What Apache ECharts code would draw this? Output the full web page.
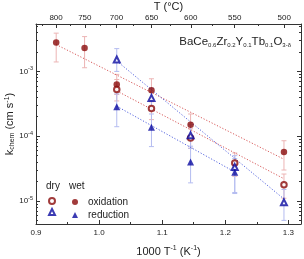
<!DOCTYPE html>
<html><head><meta charset="utf-8">
<script src="https://cdn.jsdelivr.net/npm/echarts@6/dist/echarts.min.js"></script>
<style>html,body{margin:0;padding:0;background:#fff}#c{width:304px;height:259px}</style>
</head><body><div id="c"></div>
<script>
// ---- data ----
const xVals   = [0.932, 0.977, 1.028, 1.083, 1.145, 1.215, 1.293]; // 1000/T (K^-1) for 800..500 °C
const wetOx   = [2.79e-3, 2.30e-3, 6.3e-4, 5.1e-4, 1.5e-4, null, 5.7e-5];
const wetOxLo = [1.4e-3, 1.14e-3, 4.4e-4, 3.4e-4, 1.0e-4, null, 3.0e-5];
const wetOxHi = [3.9e-3, 3.45e-3, 9.0e-4, 7.7e-4, 2.2e-4, null, 8.5e-5];
const dryOx   = [null, null, 5.26e-4, 2.67e-4, 9.4e-5, 3.84e-5, 1.77e-5];
const dryOxLo = [null, null, 3.5e-4, 1.8e-4, 6.5e-5, 2.4e-5, 1.1e-5];
const dryOxHi = [null, null, 7.5e-4, 3.8e-4, 1.3e-4, 5.5e-5, 2.6e-5];
const dryRed  = [null, null, 1.53e-3, 3.9e-4, 1.03e-4, 3.33e-5, 9.5e-6];
const dryRedLo= [null, null, 1.0e-3, 2.5e-4, 6.5e-5, 1.35e-5, 5.0e-6];
const dryRedHi= [null, null, 2.25e-3, 5.5e-4, 1.5e-4, 5.0e-5, 1.5e-5];
const wetRed  = [null, null, 2.84e-4, 1.37e-4, 4.0e-5, 2.78e-5, null];
const wetRedLo= [null, null, 1.4e-4, 6.9e-5, 1.9e-5, 1.3e-5, null];
const wetRedHi= [null, null, 4.5e-4, 2.2e-4, 7.0e-5, 4.5e-5, null];
// Arrhenius fit lines (endpoints)
const fitWetOxX = [0.932, 1.293], fitWetOxY = [2.6e-3, 4.4e-5];
const fitDryOxX = [1.028, 1.293], fitDryOxY = [5.0e-4, 2.2e-5];
const fitDryRedX = [1.028, 1.293], fitDryRedY = [1.45e-3, 1.07e-5];
const fitWetRedX = [1.028, 1.215], fitWetRedY = [2.9e-4, 2.8e-5];
// tick labels
const xTickLabels = [0.9, 1.0, 1.1, 1.2, 1.3];
const xMinorTicks = [0.95, 1.05, 1.15, 1.25];
const tempTickLabels = [800, 750, 700, 650, 600, 550, 500];
const tempMinorTicks = [825, 775, 725, 675, 625, 575, 525];
const yTickLabels = [1e-5, 1e-4, 1e-3];

// ---- build ----
const toInv = t => 1000 / (t + 273.15);
const yMinor = [];
[1e-6, 1e-5, 1e-4, 1e-3].forEach(d => { for (let k = 2; k <= 9; k++) { const v = d * k; if (v > 4.4e-6 && v < 5.4e-3) yMinor.push(v); } });
const pts = (ys) => xVals.map((x, i) => ys[i] == null ? null : [x, ys[i]]).filter(Boolean);
const errs = (lo, hi) => xVals.map((x, i) => lo[i] == null ? null : [x, lo[i], hi[i]]).filter(Boolean);
const line = (xs, ys) => xs.map((x, i) => [x, ys[i]]);

const RED = '#8a0a0a', BLUE = '#0a0aa0';
const RED_ERR = '#ecb4b4', BLUE_ERR = '#b4bcf0';
const RED_FIT = '#d85a5a', BLUE_FIT = '#5565e0';
const AX = '#333', TXT = '#222';
const FONT = 'Liberation Sans, Arial, sans-serif';

function errSeries(lo, hi, color) {
  return {
    type: 'custom', xAxisIndex: 0, yAxisIndex: 0, z: 1, silent: true,
    data: errs(lo, hi),
    renderItem: function (params, api) {
      const x = api.value(0);
      const a = api.coord([x, api.value(1)]);
      const b = api.coord([x, api.value(2)]);
      const w = 2.5;
      const st = { stroke: color, lineWidth: 1 };
      return { type: 'group', children: [
        { type: 'line', shape: { x1: a[0], y1: a[1], x2: b[0], y2: b[1] }, style: st },
        { type: 'line', shape: { x1: a[0] - w, y1: a[1], x2: a[0] + w, y2: a[1] }, style: st },
        { type: 'line', shape: { x1: b[0] - w, y1: b[1], x2: b[0] + w, y2: b[1] }, style: st }
      ] };
    }
  };
}
function fitSeries(data, color) {
  return { type: 'line', data: data, symbol: 'none', silent: true, z: 2,
    lineStyle: { color: color, width: 1, type: [1.2, 1.8] } };
}

const xBase = { type: 'value', min: 0.9, max: 1.32, splitLine: { show: false }, nameMoveOverlap: false };
const yBase = { type: 'log', min: 4.4e-6, max: 5.4e-3, splitLine: { show: false }, nameMoveOverlap: false };

const option = {
  animation: false,
  backgroundColor: '#fff',
  textStyle: { fontFamily: FONT },
  grid: { left: 36, right: 3, top: 24, bottom: 35, containLabel: false, outerBoundsMode: 'none' },
  xAxis: [
    Object.assign({}, xBase, { position: 'bottom',
      axisLine: { lineStyle: { color: AX, width: 1 } },
      axisTick: { inside: true, length: 4, customValues: xTickLabels, lineStyle: { color: AX } },
      axisLabel: { customValues: xTickLabels, formatter: v => v.toFixed(1), fontSize: 8, color: TXT, margin: 5, fontFamily: FONT },
      name: '{n|1000 T}{s|-1}{n| (K}{s|-1}{n|)}', nameLocation: 'middle', nameGap: 21,
      nameTextStyle: { rich: { n: { fontSize: 11, color: TXT, fontFamily: FONT }, s: { fontSize: 7, color: TXT, fontFamily: FONT, padding: [0, 0, 7, 0] } } } }),
    Object.assign({}, xBase, { position: 'bottom',
      axisLine: { show: false },
      axisTick: { inside: true, length: 2, customValues: xMinorTicks, lineStyle: { color: AX } },
      axisLabel: { show: false } }),
    Object.assign({}, xBase, { position: 'top',
      axisLine: { lineStyle: { color: AX, width: 1 } },
      axisTick: { inside: true, length: 4, customValues: tempTickLabels.map(toInv), lineStyle: { color: AX } },
      axisLabel: { customValues: tempTickLabels.map(toInv), formatter: v => String(Math.round(1000 / v - 273.15)), fontSize: 8, color: TXT, margin: 2, fontFamily: FONT },
      name: 'T (°C)', nameLocation: 'middle', nameGap: 12,
      nameTextStyle: { fontSize: 11, color: TXT, fontFamily: FONT } }),
    Object.assign({}, xBase, { position: 'top',
      axisLine: { show: false },
      axisTick: { inside: true, length: 2, customValues: tempMinorTicks.map(toInv), lineStyle: { color: AX } },
      axisLabel: { show: false } })
  ],
  yAxis: [
    Object.assign({}, yBase, { position: 'left',
      axisLine: { show: true, lineStyle: { color: AX, width: 1 } },
      axisTick: { show: true, inside: true, length: 4, customValues: yTickLabels, lineStyle: { color: AX } },
      axisLabel: { customValues: yTickLabels, margin: 3,
        formatter: v => '{b|10}{s|' + Math.round(Math.log10(v)) + '}',
        rich: { b: { fontSize: 8, color: TXT, fontFamily: FONT }, s: { fontSize: 5.5, color: TXT, fontFamily: FONT, padding: [0, 0, 5, 0] } } },
      name: '{n|k}{d|chem}{n| (cm s}{s|-1}{n|)}', nameLocation: 'middle', nameGap: 20, nameRotate: 90,
      nameTextStyle: { rich: { n: { fontSize: 11, color: TXT, fontFamily: FONT }, d: { fontSize: 7, color: TXT, fontFamily: FONT, padding: [5, 0, 0, 0] }, s: { fontSize: 7, color: TXT, fontFamily: FONT, padding: [0, 0, 5, 0] } } } }),
    Object.assign({}, yBase, { position: 'left',
      axisLine: { show: false },
      axisTick: { show: true, inside: true, length: 2, customValues: yMinor, lineStyle: { color: AX } },
      axisLabel: { show: false } }),
    Object.assign({}, yBase, { position: 'right',
      axisLine: { show: true, lineStyle: { color: AX, width: 1 } },
      axisTick: { show: true, inside: true, length: 4, customValues: yTickLabels, lineStyle: { color: AX } },
      axisLabel: { show: false } }),
    Object.assign({}, yBase, { position: 'right',
      axisLine: { show: false },
      axisTick: { show: true, inside: true, length: 2, customValues: yMinor, lineStyle: { color: AX } },
      axisLabel: { show: false } })
  ],
  legend: [
    { data: ['dry oxidation', 'dry reduction'], orient: 'vertical', left: 48, top: 197, padding: 0,
      itemWidth: 6, itemHeight: 6, itemGap: 3, selectedMode: false, formatter: () => '',
      textStyle: { fontSize: 1, lineHeight: 6 } },
    { data: ['oxidation', 'reduction'], orient: 'vertical', left: 72, top: 197, padding: 0,
      itemWidth: 6, itemHeight: 6, itemGap: 3, selectedMode: false,
      textStyle: { fontSize: 10, lineHeight: 6, color: TXT, fontFamily: FONT, padding: [0, 0, 0, 5] } }
  ],
  graphic: [
    { type: 'text', left: 46, top: 181, style: { text: 'dry', fontSize: 10, fill: TXT, fontFamily: FONT } },
    { type: 'text', left: 69, top: 181, style: { text: 'wet', fontSize: 10, fill: TXT, fontFamily: FONT } },
    { type: 'text', right: 13, top: 36, style: {
      text: '{m|BaCe}{s|0.6}{m|Zr}{s|0.2}{m|Y}{s|0.1}{m|Tb}{s|0.1}{m|O}{s|3-δ}',
      rich: { m: { fontSize: 11.5, fill: TXT, fontFamily: FONT }, s: { fontSize: 6, fill: TXT, fontFamily: FONT, padding: [7, 0, 0, 0] } } } }
  ],
  series: [
    errSeries(wetOxLo, wetOxHi, RED_ERR),
    errSeries(dryOxLo, dryOxHi, RED_ERR),
    errSeries(dryRedLo, dryRedHi, BLUE_ERR),
    errSeries(wetRedLo, wetRedHi, BLUE_ERR),
    fitSeries(line(fitWetOxX, fitWetOxY), RED_FIT),
    fitSeries(line(fitDryOxX, fitDryOxY), RED_FIT),
    fitSeries(line(fitDryRedX, fitDryRedY), BLUE_FIT),
    fitSeries(line(fitWetRedX, fitWetRedY), BLUE_FIT),
    { name: 'oxidation', type: 'scatter', data: pts(wetOx), symbol: 'circle', symbolSize: 6.5, z: 5,
      itemStyle: { color: RED } },
    { name: 'dry oxidation', type: 'scatter', data: pts(dryOx), symbol: 'emptyCircle', symbolSize: 5.5, z: 5,
      itemStyle: { color: RED, borderColor: RED, borderWidth: 1.2 } },
    { name: 'dry reduction', type: 'scatter', data: pts(dryRed), symbol: 'emptyTriangle', symbolSize: 6, z: 5,
      itemStyle: { color: BLUE, borderColor: BLUE, borderWidth: 1.2 } },
    { name: 'reduction', type: 'scatter', data: pts(wetRed), symbol: 'triangle', symbolSize: 7, z: 5,
      itemStyle: { color: BLUE } }
  ]
};
const chart = echarts.init(document.getElementById('c'), null, { renderer: 'canvas' });
chart.setOption(option);
</script></body></html>
